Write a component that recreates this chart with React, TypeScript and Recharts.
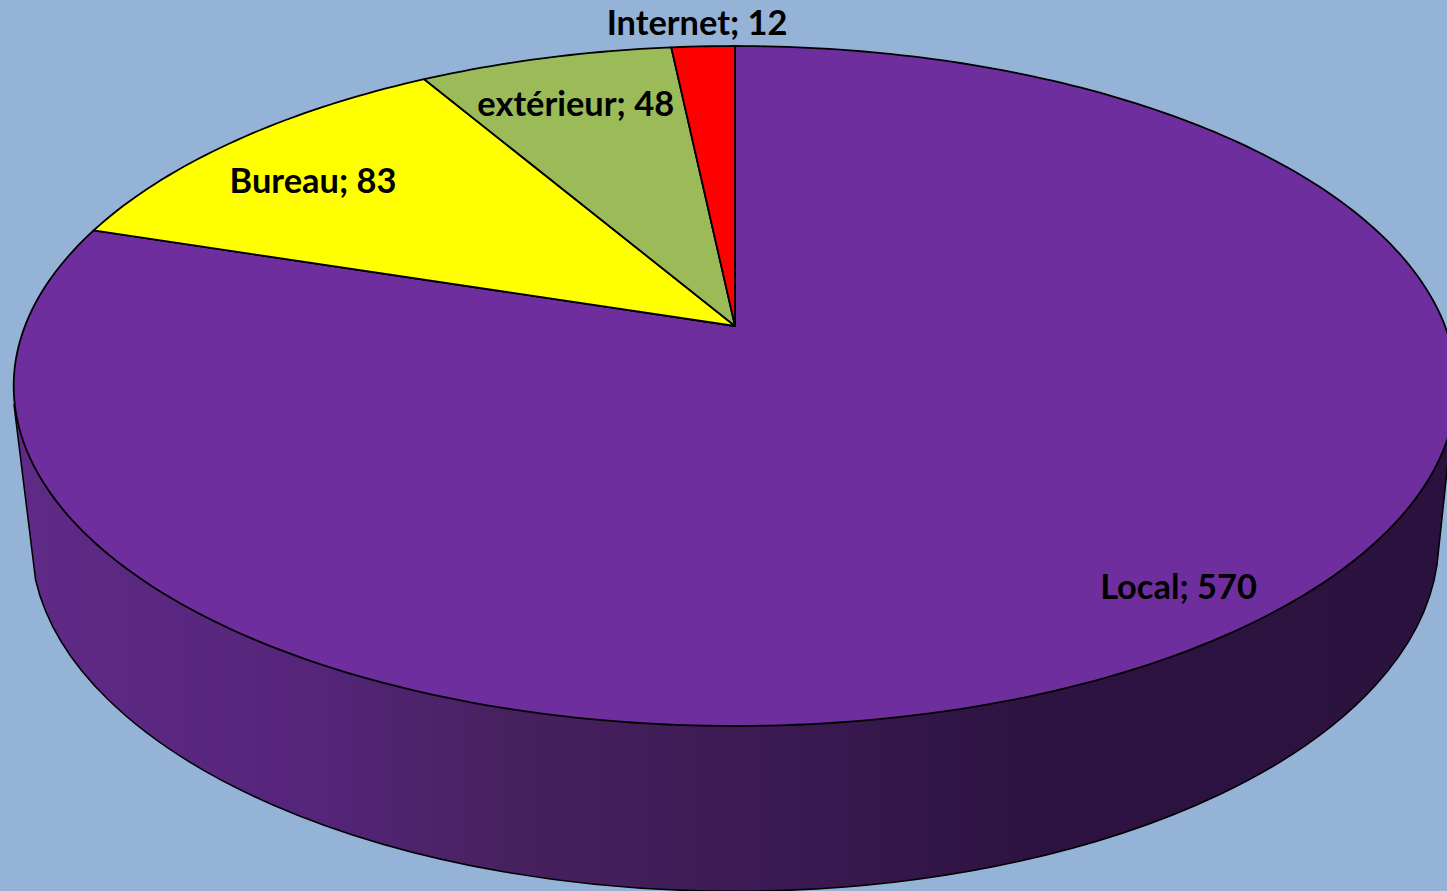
import React from "react";
import { PieChart, Pie, Cell } from "recharts";

const categories = ["Local", "Bureau", "extérieur", "Internet"];
const values = [570, 83, 48, 12];
const colors = ["#6E2E9D", "#FFFF00", "#9BBB59", "#FF0000"];
const data = categories.map((name, i) => ({ name, value: values[i] }));

const W = 1447;
const H = 891;
const CX = 735;
const CY = 326;
const RADIUS = 710;
const TILT = 329.4 / 710;
const PERSPECTIVE = 0.1765;
const RAD = Math.PI / 180;

const labelPlace: Record<string, { f: number; dx: number; dy: number }> = {
  Local: { f: 0.93, dx: -5, dy: -26 },
  Bureau: { f: 0.83, dx: -1, dy: 10 },
  "extérieur": { f: 0.8, dx: -3, dy: -3 },
  Internet: { f: 1, dx: -6, dy: -25 },
};

function project(cx: number, cy: number, r: number, angle: number, f = 1) {
  const u = Math.cos(angle * RAD) * f;
  const v = Math.sin(angle * RAD) * f;
  const d = 1 + PERSPECTIVE * v;
  return { x: cx + (r * u) / d, y: cy - (r * TILT * v) / d };
}

function SectorShape(props: any) {
  const { cx, cy, outerRadius, startAngle, endAngle, fill, index } = props;
  const n = Math.max(2, Math.ceil(Math.abs(endAngle - startAngle)));
  const pts: string[] = [`M${cx},${cy}`];
  for (let i = 0; i <= n; i++) {
    const p = project(cx, cy, outerRadius, startAngle + ((endAngle - startAngle) * i) / n);
    pts.push(`L${p.x.toFixed(2)},${p.y.toFixed(2)}`);
  }
  pts.push("Z");
  return (
    <g>
      {index === 0 && (
        <>
          <defs>
            <linearGradient id="wall" gradientUnits="userSpaceOnUse" x1="30" y1="0" x2="1440" y2="0">
              <stop offset="0" stopColor="#5F2A86" />
              <stop offset="0.2" stopColor="#55257A" />
              <stop offset="0.34" stopColor="#47215F" />
              <stop offset="0.5" stopColor="#3E1B55" />
              <stop offset="0.7" stopColor="#2E1342" />
              <stop offset="1" stopColor="#2B123E" />
            </linearGradient>
          </defs>
          <path
            d="M14,405 L35.6,580 A704,352 0 0 0 1437,565 L1454,405 Z"
            fill="url(#wall)"
            stroke="#000"
            strokeWidth={1.5}
          />
        </>
      )}
      <path d={pts.join(" ")} fill={fill} stroke="#000" strokeWidth={1.8} strokeLinejoin="round" />
    </g>
  );
}

function renderLabel(props: any) {
  const { cx, cy, outerRadius, midAngle, name, value } = props;
  const place = labelPlace[name];
  const p = project(cx, cy, outerRadius, midAngle, place.f);
  return (
    <text
      x={p.x + place.dx}
      y={p.y + place.dy}
      textAnchor="middle"
      dominantBaseline="central"
      fill="#000"
      style={{ fontFamily: "Lato, sans-serif", fontWeight: 700, fontSize: 34.4 }}
    >
      {`${name}; ${value}`}
    </text>
  );
}

export default function App() {
  return (
    <div
      style={{
        position: "absolute",
        left: 0,
        top: 0,
        width: W,
        height: H,
        background: "#95B3D7",
        overflow: "hidden",
      }}
    >
      <PieChart width={W} height={H} margin={{ top: 0, right: 0, bottom: 0, left: 0 }}>
        <Pie
          data={data}
          dataKey="value"
          nameKey="name"
          cx={CX}
          cy={CY}
          outerRadius={RADIUS}
          startAngle={90}
          endAngle={-270}
          stroke="#000"
          shape={SectorShape}
          label={renderLabel}
          labelLine={false}
          isAnimationActive={false}
        >
          {colors.map((c, i) => (
            <Cell key={categories[i]} fill={c} />
          ))}
        </Pie>
      </PieChart>
    </div>
  );
}
